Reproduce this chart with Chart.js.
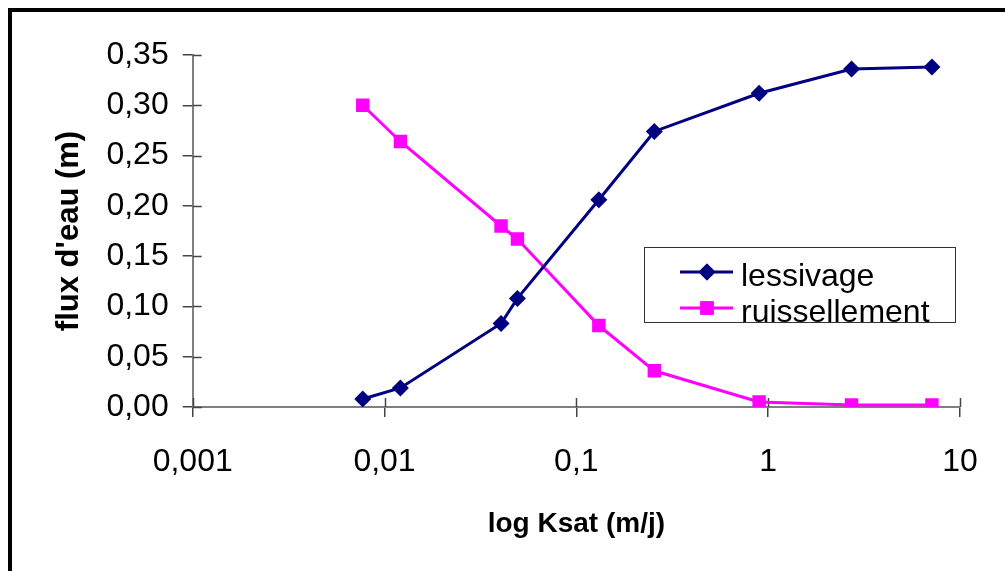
<!DOCTYPE html>
<html>
<head>
<meta charset="utf-8">
<script src="https://cdn.jsdelivr.net/npm/chart.js@4/dist/chart.umd.min.js"></script>
<style>
  body { margin: 0; background: #fff; }
  #wrap { position: relative; width: 1005px; height: 571px; overflow: hidden; }
  #frame { position: absolute; left: 8px; top: 8px; width: 1100px; height: 700px;
           border-left: 4px solid #000; border-top: 4px solid #000; }
  canvas { position: absolute; left: 0; top: 0; }
</style>
</head>
<body>
<div id="wrap">
  <div id="frame"></div>
  <canvas id="chart" width="1005" height="571"></canvas>
</div>
<script>
// values
const ksat = [0.0077, 0.0121, 0.0405, 0.0493, 0.131, 0.255, 0.897, 2.72, 7.14]
const lessivage = [0.008, 0.019, 0.083, 0.108, 0.206, 0.274, 0.312, 0.336, 0.338]
const ruissellement = [0.300, 0.264, 0.180, 0.167, 0.081, 0.036, 0.005, 0.002, 0.002]
const xTicks = [0.001, 0.01, 0.1, 1, 10]

const navy = "#000080"
const pink = "#ff00ff"
const axisGray = "#7f7f7f"
const tickGray = "#444"

Chart.defaults.font.family = "'Liberation Sans', Arial, sans-serif"
Chart.defaults.color = "#000"

const toPoints = ys => ys.map((y, i) => ({x: ksat[i], y: y}))

// cross ticks: draw the inner half of each tick mark
const innerTicks = {
    id: "innerTicks",
    beforeDatasetsDraw(chart) {
        const {ctx, chartArea, scales} = chart
        ctx.save()
        ctx.strokeStyle = tickGray
        ctx.lineWidth = 1.5
        scales.x.ticks.forEach(t => {
            const px = Math.round(scales.x.getPixelForValue(t.value)) + 0.5
            ctx.beginPath()
            ctx.moveTo(px, chartArea.bottom)
            ctx.lineTo(px, chartArea.bottom - 9)
            ctx.stroke()
        })
        scales.y.ticks.forEach(t => {
            const py = Math.round(scales.y.getPixelForValue(t.value)) + 0.5
            ctx.beginPath()
            ctx.moveTo(chartArea.left, py)
            ctx.lineTo(chartArea.left + 9, py)
            ctx.stroke()
        })
        ctx.restore()
    }
}

// boxed legend inside the plot, like the spreadsheet one
const boxLegend = {
    id: "boxLegend",
    afterDraw(chart) {
        const ctx = chart.ctx
        const box = {x: 644, y: 247, w: 311, h: 75}
        ctx.save()
        ctx.fillStyle = "#fff"
        ctx.fillRect(box.x, box.y, box.w, box.h)
        ctx.strokeStyle = "#333"
        ctx.lineWidth = 1
        ctx.strokeRect(box.x + 0.5, box.y + 0.5, box.w, box.h)
        const rows = [
            {ds: chart.data.datasets[0], y: 272, base: 286},
            {ds: chart.data.datasets[1], y: 308, base: 322}
        ]
        rows.forEach(r => {
            ctx.strokeStyle = r.ds.borderColor
            ctx.lineWidth = 3
            ctx.beginPath()
            ctx.moveTo(680, r.y)
            ctx.lineTo(733, r.y)
            ctx.stroke()
            ctx.fillStyle = r.ds.backgroundColor
            Chart.helpers.drawPoint(ctx, {pointStyle: r.ds.pointStyle, radius: r.ds.pointRadius, rotation: 0, borderWidth: 0}, 707, r.y)
            ctx.fill()
            ctx.fillStyle = "#000"
            ctx.font = "32px 'Liberation Sans', Arial, sans-serif"
            ctx.textBaseline = "alphabetic"
            ctx.fillText(r.ds.label, 741, r.base)
        })
        ctx.restore()
    }
}

const ctx = document.querySelector("#chart")
new Chart(ctx, {
    type: "line",
    data: {
        datasets: [
            {
                label: "lessivage",
                data: toPoints(lessivage),
                borderColor: navy,
                backgroundColor: navy,
                borderWidth: 3,
                pointStyle: "rectRot",
                pointRadius: 8.5,
                pointBorderWidth: 0,
                tension: 0
            },
            {
                label: "ruissellement",
                data: toPoints(ruissellement),
                borderColor: pink,
                backgroundColor: pink,
                borderWidth: 3,
                pointStyle: "rect",
                pointRadius: 9.5,
                pointBorderWidth: 0,
                tension: 0
            }
        ]
    },
    options: {
        responsive: false,
        animation: false,
        layout: {
            padding: {left: 50, right: 45, top: 55, bottom: 20}
        },
        scales: {
            x: {
                type: "logarithmic",
                min: 0.001,
                max: 10,
                afterBuildTicks: s => { s.ticks = xTicks.map(v => ({value: v})) },
                afterFit: s => { s.height = 571 - 20 - 407 },
                border: {color: axisGray, width: 2},
                grid: {drawOnChartArea: false, tickLength: 10, color: tickGray, lineWidth: 1.5},
                ticks: {
                    font: {size: 32},
                    padding: 26,
                    maxRotation: 0,
                    autoSkip: false,
                    callback: v => String(v).replace(".", ",")
                },
                title: {
                    display: true,
                    text: "log Ksat (m/j)",
                    font: {size: 28, weight: "bold"},
                    padding: {top: 0, bottom: 10}
                }
            },
            y: {
                min: 0,
                max: 0.35,
                afterFit: s => { s.width = 192.7 - 50 },
                border: {color: axisGray, width: 2},
                grid: {drawOnChartArea: false, tickLength: 10, color: tickGray, lineWidth: 1.5},
                ticks: {
                    stepSize: 0.05,
                    font: {size: 32},
                    padding: 14,
                    callback: v => v.toFixed(2).replace(".", ",")
                },
                title: {
                    display: true,
                    text: "flux d'eau (m)",
                    font: {size: 31, weight: "bold"},
                    padding: {top: 1, bottom: 0}
                }
            }
        },
        plugins: {
            legend: {display: false},
            tooltip: {enabled: false}
        }
    },
    plugins: [innerTicks, boxLegend]
})
</script>
</body>
</html>
